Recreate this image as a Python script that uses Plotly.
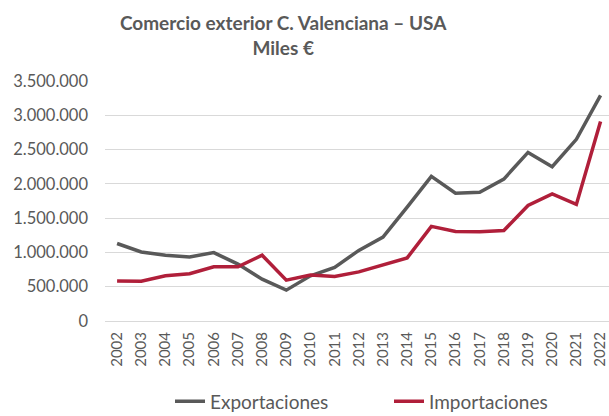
import plotly.graph_objects as go

years = [str(y) for y in range(2002, 2023)]
exportaciones = [1130000, 1006000, 958000, 934000, 998000, 830000, 610000, 450000, 660000,
                 780000, 1030000, 1224000, 1660000, 2110000, 1863000, 1878000, 2070000,
                 2459000, 2250000, 2650000, 3290000]
importaciones = [585000, 580000, 660000, 690000, 790000, 790000, 960000, 595000, 670000,
                 650000, 716000, 813000, 920000, 1380000, 1307000, 1300000, 1320000,
                 1685000, 1854000, 1700000, 2910000]
y_ticks = [0, 500000, 1000000, 1500000, 2000000, 2500000, 3000000, 3500000]

FONT = "Lato"
GRAY = "#595959"
RED = "#B01F3A"

fig = go.Figure()
fig.add_trace(go.Scatter(x=years, y=exportaciones, mode="lines", name="Exportaciones",
                         line=dict(color=GRAY, width=3.5)))
fig.add_trace(go.Scatter(x=years, y=importaciones, mode="lines", name="Importaciones",
                         line=dict(color=RED, width=3.5)))

fig.update_layout(
    width=609, height=416,
    margin=dict(l=105, r=0, t=81, b=95),
    paper_bgcolor="white", plot_bgcolor="white",
    separators=",.",
    font=dict(family=FONT, color=GRAY, size=15),
    title=dict(text="<b>Comercio exterior C. Valenciana – USA<br>Miles €</b>",
               x=0.465, xanchor="center", y=0.928, yanchor="middle",
               xref="container",
               font=dict(family=FONT, size=19, color=GRAY)),
    xaxis=dict(type="category", range=[-0.5, 20.35], tickangle=-90,
               showgrid=False, showline=False, ticks="", automargin=False,
               ticklabelstandoff=7,
               tickfont=dict(size=15, color=GRAY)),
    yaxis=dict(range=[0, 3500000], tickvals=y_ticks, tickformat=",d",
               showgrid=True, gridcolor="#D9D9D9", gridwidth=1,
               zeroline=True, zerolinecolor="#D9D9D9", zerolinewidth=1,
               showline=False, ticks="", ticklabelstandoff=16, automargin=False,
               tickfont=dict(size=16.5, color=GRAY)),
    showlegend=True,
    legend=dict(orientation="h", x=(170 - 105) / 504, xref="paper", xanchor="left",
                y=0.035, yref="container", yanchor="middle",
                font=dict(size=19, color=GRAY), entrywidth=174, entrywidthmode="pixels",
                bgcolor="rgba(0,0,0,0)"),
)

fig.write_html("out.html")
